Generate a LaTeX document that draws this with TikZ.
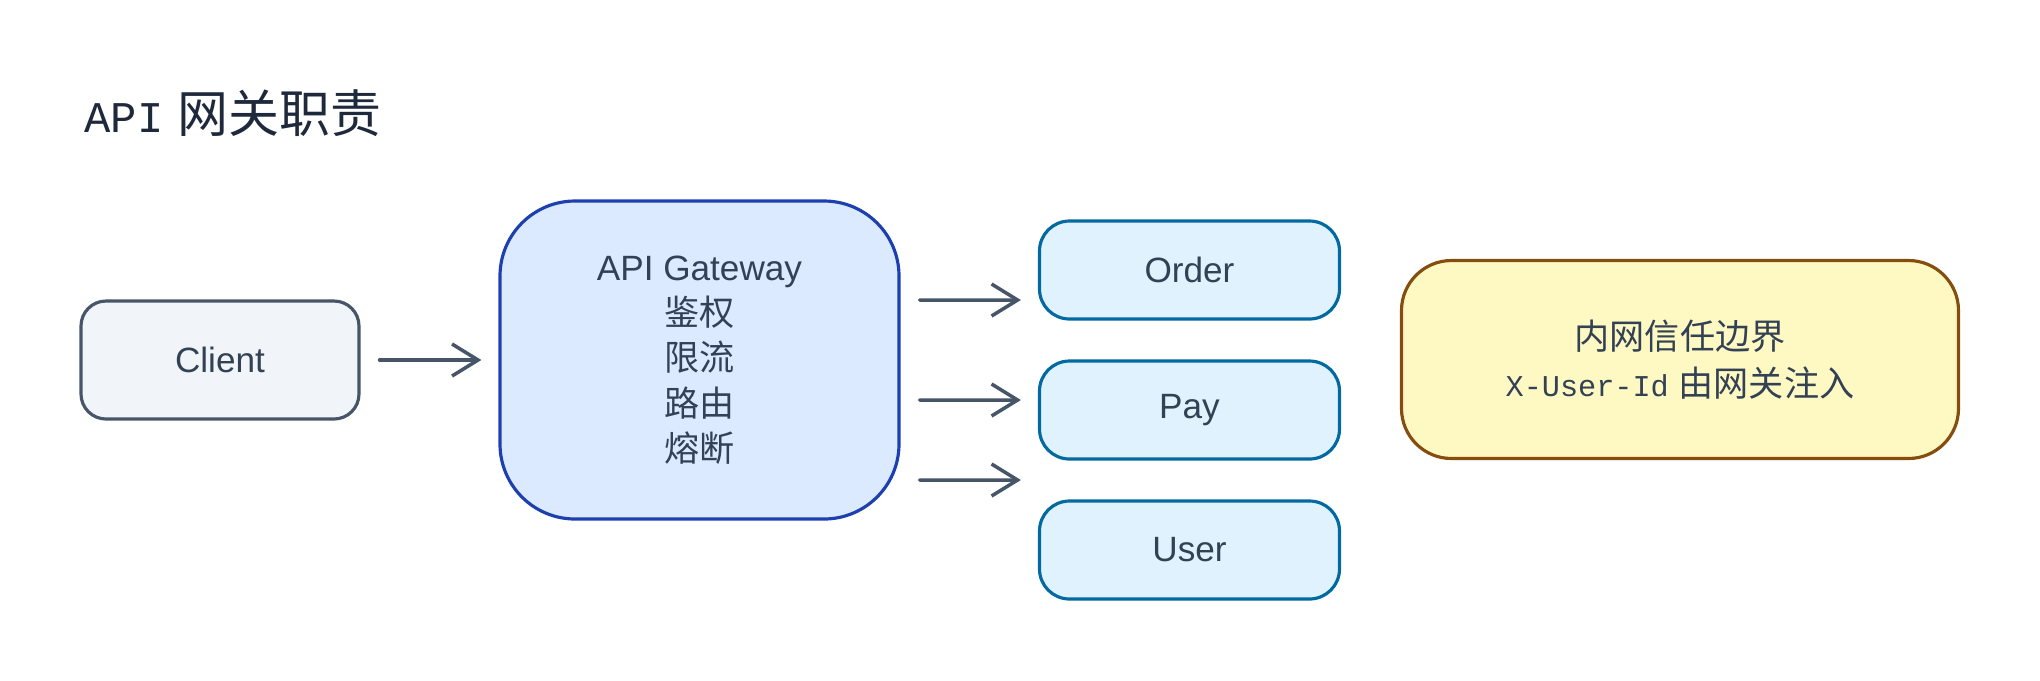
\documentclass[tikz,border=0pt]{standalone}
\usepackage{fontspec}
\setmainfont{Liberation Sans}
\newfontfamily\cjk{Noto Sans CJK SC}
\newfontfamily\mono[Scale=0.86]{Liberation Mono}
\usepackage{xcolor}
\usetikzlibrary{arrows.meta}

\definecolor{inktext}{HTML}{334155}
\definecolor{inktitle}{HTML}{1E293B}
\definecolor{inkarrow}{HTML}{475569}
\definecolor{clientfill}{HTML}{F1F5F9}
\definecolor{clientline}{HTML}{475569}
\definecolor{gwfill}{HTML}{DBEAFE}
\definecolor{gwline}{HTML}{1E40AF}
\definecolor{svcfill}{HTML}{E0F2FE}
\definecolor{svcline}{HTML}{0369A1}
\definecolor{notefill}{HTML}{FEF9C3}
\definecolor{noteline}{HTML}{854D0E}

\begin{document}
\begin{tikzpicture}[
    box/.style={draw, line width=0.9pt, inner sep=0pt, align=center,
                text=inktext, font=\fontsize{10}{12.9}\selectfont},
    clientbox/.style={box, fill=clientfill, draw=clientline, rounded corners=0.25cm,
                      minimum width=2.78cm, minimum height=1.18cm},
    gwbox/.style={box, fill=gwfill, draw=gwline, rounded corners=0.75cm,
                  minimum width=3.99cm, minimum height=3.18cm},
    svcbox/.style={box, fill=svcfill, draw=svcline, rounded corners=0.3cm,
                   minimum width=3.0cm, minimum height=0.98cm},
    notebox/.style={box, fill=notefill, draw=noteline, rounded corners=0.5cm,
                    minimum width=5.57cm, minimum height=1.98cm,
                    font=\fontsize{10}{13.2}\selectfont},
    arr/.style={draw=inkarrow, line width=1pt, line cap=round,
                -{Straight Barb[length=2.6mm, width=3.2mm, line width=1pt]},
                shorten <=1.9mm, shorten >=1.7mm}
]
    \useasboundingbox (0, 0) rectangle (20.4, -6.8);

    % Title
    \node[anchor=west, text=inktitle, font=\fontsize{14.5}{16}\selectfont] (title) at (0.72, -1.13)
        {{\mono API} {\cjk 网关职责}};

    % Client and gateway
    \node[clientbox] (client) at (2.20, -3.60) {Client};
    \node[gwbox] (gw) at (6.995, -3.60)
        {API Gateway\\{\cjk 鉴权}\\{\cjk 限流}\\{\cjk 路由}\\{\cjk 熔断}};

    % Backend services
    \node[svcbox] (order) at (11.895, -2.70) {Order};
    \node[svcbox] (pay)   at (11.895, -4.10) {Pay};
    \node[svcbox] (user)  at (11.895, -5.50) {User};

    % Trust boundary note
    \node[notebox] (note) at (16.80, -3.595)
        {{\cjk 内网信任边界}\\{\mono X-User-Id} {\cjk 由网关注入}};

    % Request flow
    \draw[arr] (client) -- (gw);
    \draw[arr] ([yshift=6mm]gw.east)  -- ([yshift=-3mm]order.west);
    \draw[arr] ([yshift=-4mm]gw.east) -- ([yshift=1mm]pay.west);
    \draw[arr] ([yshift=-12mm]gw.east) -- ([yshift=7mm]user.west);
\end{tikzpicture}
\end{document}
